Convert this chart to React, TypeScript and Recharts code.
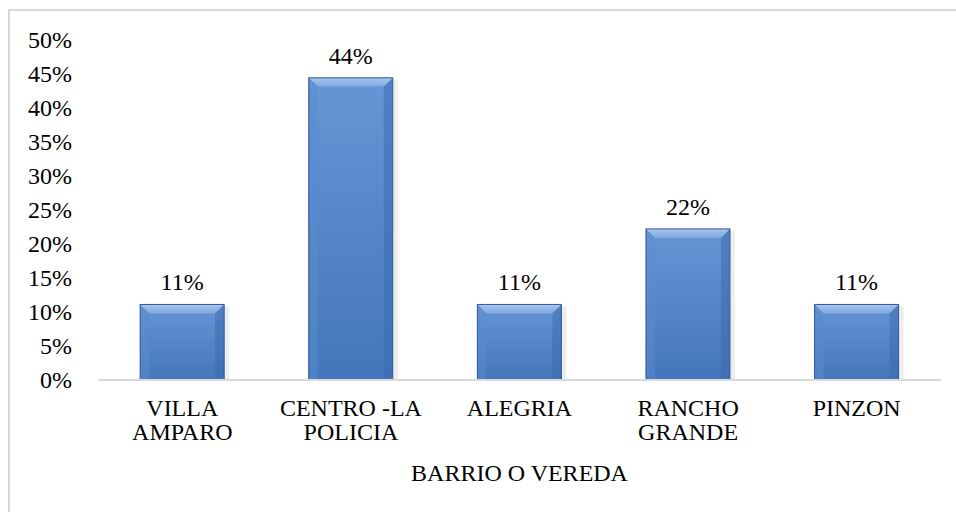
import React from "react";
import { BarChart, Bar, XAxis, YAxis, LabelList } from "recharts";

const categories = ["VILLA AMPARO", "CENTRO -LA POLICIA", "ALEGRIA", "RANCHO GRANDE", "PINZON"];
const values = [11.11, 44.44, 11.11, 22.22, 11.11];
const yTicks = [0, 5, 10, 15, 20, 25, 30, 35, 40, 45, 50];
const axisTitle = "BARRIO O VEREDA";

const data = categories.map((name, i) => ({ name, value: values[i] }));

const FONT = "'Liberation Serif', 'Times New Roman', serif";
const textStyle = { fontFamily: FONT, fontSize: 24, fill: "#000" };

const BevelBar = (props: any) => {
  const { x, y, width, height } = props;
  if (!height || height <= 0) return null;
  const b = Math.min(9, height / 2);
  return (
    <g>
      <rect x={x + 2} y={y + 2} width={width + 3} height={height - 2} fill="url(#shadowGrad)" />
      <rect x={x} y={y} width={width} height={height} fill="url(#barBody)" />
      <polygon
        points={`${x},${y} ${x + width},${y} ${x + width - b},${y + b} ${x + b},${y + b}`}
        fill="url(#barTop)"
      />
      <polygon
        points={`${x},${y} ${x + b},${y + b} ${x + b},${y + height} ${x},${y + height}`}
        fill="#5a8ccf"
        opacity={0.5}
      />
      <polygon
        points={`${x + width},${y} ${x + width - b},${y + b} ${x + width - b},${y + height} ${x + width},${y + height}`}
        fill="#3a6aad"
        opacity={0.5}
      />
      <rect x={x} y={y} width={width} height={height} fill="none" stroke="#2f5a94" strokeWidth={1} />
    </g>
  );
};

const XTick = (props: any) => {
  const { x, y, payload } = props;
  const label: string = payload.value;
  const idx = label.lastIndexOf(" ");
  const lines = idx > 0 ? [label.slice(0, idx), label.slice(idx + 1)] : [label];
  return (
    <text x={x} y={y} textAnchor="middle" fontFamily={FONT} fontSize={24} fill="#000" style={textStyle}>
      {lines.map((l, i) => (
        <tspan key={i} x={x} dy={i === 0 ? 28 : 24}>
          {l}
        </tspan>
      ))}
    </text>
  );
};

const YTick = (props: any) => {
  const { x, y, payload } = props;
  return (
    <text x={x} y={y} dy={8} textAnchor="end" fontFamily={FONT} fontSize={24} fill="#000" style={textStyle}>
      {`${payload.value}%`}
    </text>
  );
};

const TopLabel = (props: any) => {
  const { x, y, width, value } = props;
  return (
    <text x={x + width / 2} y={y - 14} textAnchor="middle" fontFamily={FONT} fontSize={24} fill="#000" style={textStyle}>
      {`${Math.round(value)}%`}
    </text>
  );
};

export default function App() {
  return (
    <div
      style={{
        position: "absolute",
        left: 0,
        top: 0,
        width: 956,
        height: 512,
        overflow: "hidden",
        background: "#fff",
        fontFamily: FONT,
      }}
    >
      <div
        style={{
          position: "absolute",
          left: 8,
          top: 9,
          width: 1000,
          height: 600,
          border: "2px solid #d9d9d9",
          boxSizing: "border-box",
        }}
      />
      <div style={{ position: "absolute", left: 0, top: 0 }}>
        <BarChart
          width={956}
          height={512}
          data={data}
          margin={{ top: 40, right: 15, left: 0, bottom: 0 }}
          barCategoryGap="25%"
          style={{ fontFamily: FONT }}
        >
          <defs>
            <linearGradient id="barBody" x1="0" y1="0" x2="0" y2="1">
              <stop offset="0%" stopColor="#6796d6" />
              <stop offset="100%" stopColor="#4476bb" />
            </linearGradient>
            <linearGradient id="barTop" x1="0" y1="0" x2="0" y2="1">
              <stop offset="0%" stopColor="#a9c6ee" />
              <stop offset="100%" stopColor="#7ea6df" />
            </linearGradient>
            <linearGradient id="shadowGrad" x1="0" y1="0" x2="1" y2="0">
              <stop offset="0%" stopColor="#cccccc" />
              <stop offset="100%" stopColor="#eeeeee" />
            </linearGradient>
          </defs>
          <YAxis
            type="number"
            domain={[0, 50]}
            ticks={yTicks}
            interval={0}
            width={98}
            axisLine={false}
            tickLine={false}
            tickSize={6}
            tickMargin={20}
            tick={<YTick />}
          />
          <XAxis
            dataKey="name"
            height={132}
            interval={0}
            tickLine={false}
            axisLine={{ stroke: "#d9d9d9", strokeWidth: 2 }}
            tick={<XTick />}
            label={{
              value: axisTitle,
              position: "insideBottom",
              offset: 31,
              style: textStyle,
            }}
          />
          <Bar dataKey="value" shape={<BevelBar />} isAnimationActive={false}>
            <LabelList dataKey="value" content={<TopLabel />} />
          </Bar>
        </BarChart>
      </div>
    </div>
  );
}
